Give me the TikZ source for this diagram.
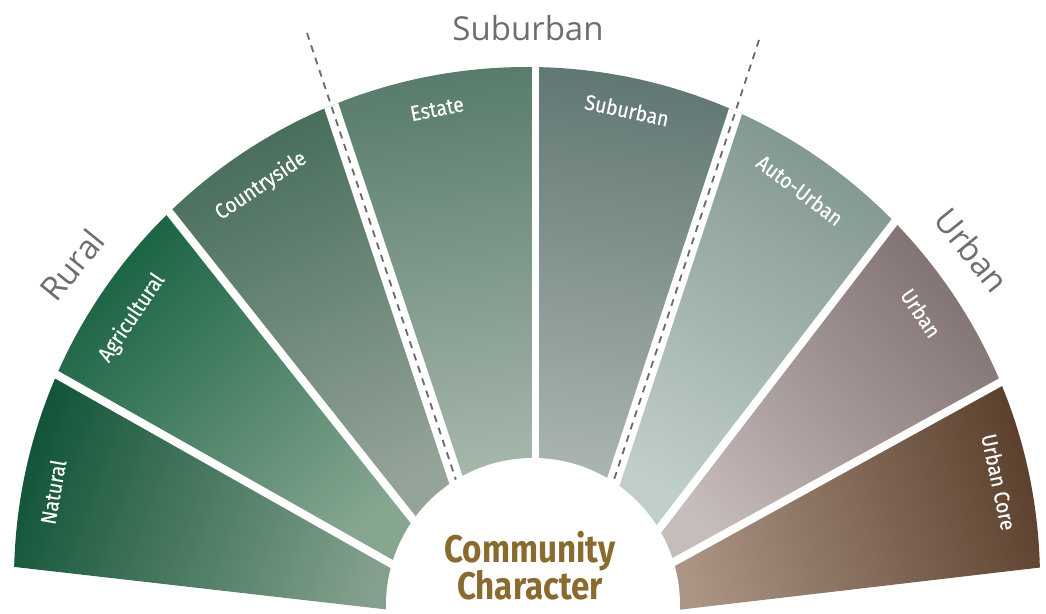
\documentclass[tikz,border=0pt]{standalone}
\usepackage{fontspec}
\newfontfamily\lblfont[FakeStretch=0.9,FakeBold=0.3]{Fira Sans}
\newfontfamily\ccfont[FakeStretch=0.86]{Fira Sans}
\newfontfamily\headfont{Open Sans}
\definecolor{natD}{HTML}{0B5033}\definecolor{natL}{HTML}{84A08C}
\definecolor{agrD}{HTML}{0D5C3A}\definecolor{agrL}{HTML}{86A690}
\definecolor{couD}{HTML}{3A6450}\definecolor{couL}{HTML}{95A499}
\definecolor{estD}{HTML}{527766}\definecolor{estL}{HTML}{A6B7AB}
\definecolor{subD}{HTML}{5C736F}\definecolor{subL}{HTML}{ABB5B1}
\definecolor{autD}{HTML}{788E89}\definecolor{autL}{HTML}{C0CEC9}
\definecolor{urbD}{HTML}{7A6C6B}\definecolor{urbL}{HTML}{C6BCBA}
\definecolor{ucoD}{HTML}{583C29}\definecolor{ucoL}{HTML}{AA9484}
\definecolor{headgray}{HTML}{6E6E6E}
\definecolor{ccgold}{HTML}{8A6B2F}
\definecolor{dashgray}{HTML}{6A6A6A}
\tikzset{
  divline/.style={white, line width=8pt},
  gapline/.style={white, line width=#1},
  dashline/.style={dashgray, line width=1.8pt, dash pattern=on 7pt off 6pt},
  seclabel/.style={text=white, font=\lblfont\fontsize{21.5}{21.5}\selectfont, inner sep=0pt},
  headlabel/.style={text=headgray, font=\headfont\fontsize{33}{33}\selectfont, inner sep=0pt},
  cclabel/.style={text=ccgold, font=\ccfont\bfseries\fontsize{38.5}{38.5}\selectfont, inner sep=0pt, anchor=base}
}
\begin{document}
\begin{tikzpicture}[x=1pt,y=-1pt]
\useasboundingbox (0,0) rectangle (1046,613);
% divider end points (outer P, inner Q)
\coordinate (P0) at (-20,563);   \coordinate (Q0) at (400,611);
\coordinate (P1) at (20,354);    \coordinate (Q1) at (420,580);
\coordinate (P2) at (140,175);   \coordinate (Q2) at (430,541);
\coordinate (P3) at (307,33);    \coordinate (Q3) at (460,492);
\coordinate (P4) at (535.5,40);  \coordinate (Q4) at (535.5,470);
\coordinate (P5) at (759,40);    \coordinate (Q5) at (608,498);
\coordinate (P6) at (916,194);   \coordinate (Q6) at (645,547);
\coordinate (P7) at (1030,366);  \coordinate (Q7) at (650,575);
\coordinate (P8) at (1070,564);  \coordinate (Q8) at (660,612);
\coordinate (O) at (527,580);
% sectors
\begin{scope}
  \clip (O) circle[radius=513pt];
  \shade[top color=natD, bottom color=natL, shading angle=70] (Q0) -- (P0) -- (P1) -- (Q1) -- cycle;
  \shade[top color=agrD, bottom color=agrL, shading angle=45] (Q1) -- (P1) -- (P2) -- (Q2) -- cycle;
  \shade[top color=couD, bottom color=couL, shading angle=25] (Q2) -- (P2) -- (P3) -- (Q3) -- cycle;
  \shade[top color=estD, bottom color=estL, shading angle=8] (Q3) -- (P3) -- (P4) -- (Q4) -- cycle;
  \shade[top color=subD, bottom color=subL, shading angle=-8] (Q4) -- (P4) -- (P5) -- (Q5) -- cycle;
  \shade[top color=autD, bottom color=autL, shading angle=-30] (Q5) -- (P5) -- (P6) -- (Q6) -- cycle;
  \shade[top color=urbD, bottom color=urbL, shading angle=-48] (Q6) -- (P6) -- (P7) -- (Q7) -- cycle;
  \shade[top color=ucoD, bottom color=ucoL, shading angle=-72] (Q7) -- (P7) -- (P8) -- (Q8) -- cycle;
\end{scope}
% white dividers
\draw[divline] (P1) -- (Q1);
\draw[divline] (P2) -- (Q2);
\draw[gapline=7pt] (P4) -- (Q4);
\draw[divline] (P6) -- (Q6);
\draw[divline] (P7) -- (Q7);
\begin{scope}
  \clip (O) circle[radius=513pt];
  \draw[gapline=15pt] (P3) -- (Q3);
  \draw[gapline=14pt] (P5) -- (Q5);
\end{scope}
\draw[dashline] (P3) -- (Q3);
\draw[dashline] (P5) -- (Q5);
% centre disc
\node[circle, fill=white, minimum size=294pt, inner sep=0pt] (core) at (533,605) {};
\node[cclabel] (cc1) at (530,562) {Community};
\node[cclabel] (cc2) at (530,599) {Character};
% sector labels
\node[seclabel, rotate=80]  (lnat) at (53,492)  {Natural};
\node[seclabel, rotate=56]  (lagr) at (132,318) {Agricultural};
\node[seclabel, rotate=34]  (lcou) at (261,186) {Countryside};
\node[seclabel, rotate=11]  (lest) at (437,109) {Estate};
\node[seclabel, rotate=-12] (lsub) at (627,110) {Suburban};
\node[seclabel, rotate=-37] (laut) at (800,190) {Auto-Urban};
\node[seclabel, rotate=-56] (lurb) at (921,313) {Urban};
\node[seclabel, rotate=-78] (luco) at (999,482) {Urban Core};
% group headings
\node[headlabel, anchor=base] (hsub) at (528,40) {Suburban};
\node[headlabel, rotate=51] (hrur) at (72,265) {Rural};
\node[headlabel, rotate=-51] (hurb) at (972,250) {Urban};
\end{tikzpicture}
\end{document}
